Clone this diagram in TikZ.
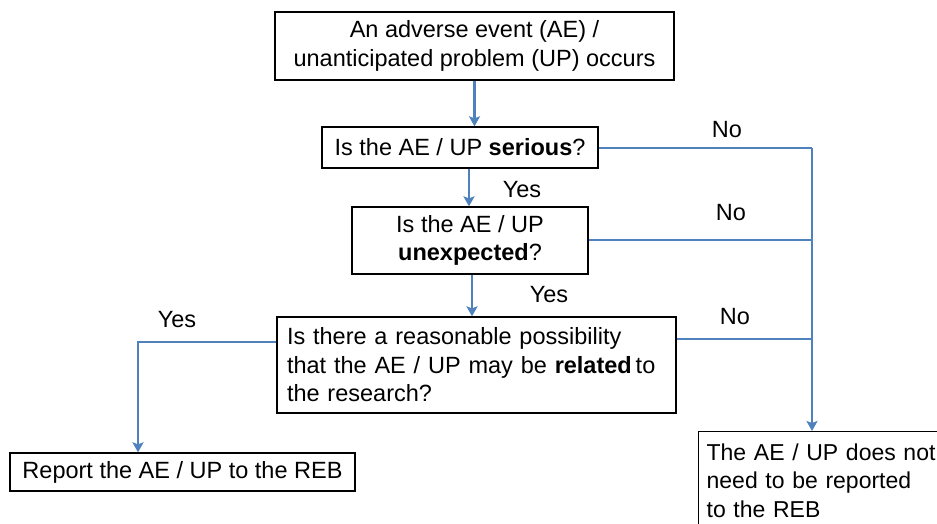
\documentclass[tikz,border=0pt]{standalone}
\usepackage{fontspec}
\setmainfont{Liberation Sans}
\usetikzlibrary{arrows.meta,calc}
\definecolor{flowblue}{RGB}{79,129,189}
\begin{document}
\begin{tikzpicture}[x=1pt,y=-1pt,
  box/.style={draw=black,line width=1.3pt,fill=white,inner sep=0pt,
    font=\fontsize{23.5}{28.5}\selectfont},
  lbl/.style={font=\fontsize{23.5}{28.5}\selectfont,inner sep=0pt},
  conn/.style={draw=flowblue,line width=2.8pt},
  arr/.style={conn,-{Stealth[length=10pt,width=11pt,inset=2pt]}}]
\useasboundingbox (0,0) rectangle (937,523);
\clip (0,0) rectangle (937,523);
\node[box,minimum width=399pt,minimum height=68pt,align=center] (b1) at (474.5,46)
  {An adverse event (AE) /\\unanticipated problem (UP) occurs};
\node[box,minimum width=276pt,minimum height=41pt] (b2) at (460,147.5)
  {Is the AE / UP \textbf{serious}?};
\node[box,minimum width=236pt,minimum height=67pt,align=center] (b3) at (470,240.5)
  {Is the AE / UP\\\textbf{unexpected}?};
\node[box,minimum width=399pt,minimum height=96pt,text width=379pt,inner xsep=10pt,align=left] (b4) at (476.5,365)
  {Is there a reasonable possibility\\that the AE / UP may be \textbf{related}\,to\\the research?};
\node[box,minimum width=345pt,minimum height=38pt] (b5) at (182.5,472)
  {Report the AE / UP to the REB};
\node[box,anchor=north west,text width=250pt,inner xsep=8pt,inner ysep=12pt,align=left,
  font=\fontsize{23}{28.5}\selectfont] (b6) at (698,431)
  {The AE / UP does not\\need to be reported\\to the REB};
% coordinates
\coordinate (t1) at (812,148);
\coordinate (t2) at (812,240);
\coordinate (t3) at (812,339);
\coordinate (y4) at (138,342);
% main path
\draw[arr] (b1.south) -- (b1.south |- b2.north);
\draw[arr] ([xshift=9pt]b2.south) -- ([xshift=9pt]b2.south |- b3.north);
\draw[arr] ([xshift=2pt]b3.south) -- ([xshift=2pt]b3.south |- b4.north);
% no branches
\draw[conn] (b2.east |- t1) -- (t1);
\draw[conn] (b3.east |- t2) -- (t2);
\draw[conn] (b4.east |- t3) -- (t3);
\draw[arr] (t1) -- (t1 |- b6.north);
% yes branch
\draw[arr] (b4.west |- y4) -- (y4) -- (y4 |- b5.north);
% labels
\node[lbl] (no1) at (727,130) {No};
\node[lbl] (no2) at (731,213) {No};
\node[lbl] (no3) at (735,317) {No};
\node[lbl] (yes1) at (522,190) {Yes};
\node[lbl] (yes2) at (549,295) {Yes};
\node[lbl] (yes3) at (177,320) {Yes};
\end{tikzpicture}
\end{document}
